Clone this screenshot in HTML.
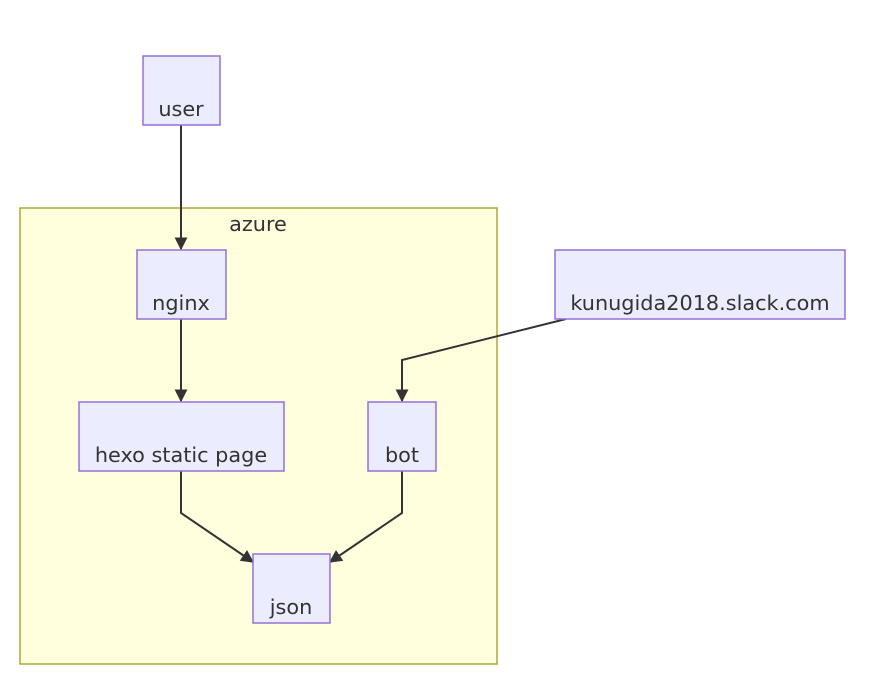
<!DOCTYPE html>
<html><head><meta charset="utf-8"><style>
html,body{margin:0;padding:0;background:#fff;}
svg{display:block;}
text{font-family:"DejaVu Sans","Liberation Sans",sans-serif;font-size:20.8px;fill:#333;text-anchor:middle;}
.n{fill:#ECECFF;stroke:#9370DB;stroke-width:1.5;}
.e{fill:none;stroke:#333;stroke-width:2;}
</style></head><body>
<svg width="891" height="691" viewBox="0 0 891 691" xmlns="http://www.w3.org/2000/svg">
<defs><marker id="a" viewBox="0 0 10 10" refX="9" refY="5" markerWidth="13" markerHeight="13" orient="auto" markerUnits="userSpaceOnUse"><path d="M0,0L10,5L0,10z" fill="#333"/></marker></defs>
<rect x="20" y="208" width="477" height="456" fill="#ffffde" stroke="#aaaa33" stroke-width="1.5"/>
<text x="258" y="231">azure</text>
<path class="e" d="M181,125V249" marker-end="url(#a)"/>
<path class="e" d="M181,319V401" marker-end="url(#a)"/>
<path class="e" d="M181,471V513L253,562" marker-end="url(#a)"/>
<path class="e" d="M402,471V513L330,562" marker-end="url(#a)"/>
<path class="e" d="M566,319L402,360V401" marker-end="url(#a)"/>
<rect class="n" x="143" y="56" width="77" height="69"/><text x="181" y="116">user</text>
<rect class="n" x="137" y="250" width="89" height="69"/><text x="181" y="310">nginx</text>
<rect class="n" x="79" y="402" width="205" height="69"/><text x="181" y="462">hexo static page</text>
<rect class="n" x="368" y="402" width="68" height="69"/><text x="402" y="462">bot</text>
<rect class="n" x="253" y="554" width="77" height="69"/><text x="291" y="614">json</text>
<rect class="n" x="555" y="250" width="290" height="69"/><text x="700" y="310">kunugida2018.slack.com</text>
</svg>
</body></html>
